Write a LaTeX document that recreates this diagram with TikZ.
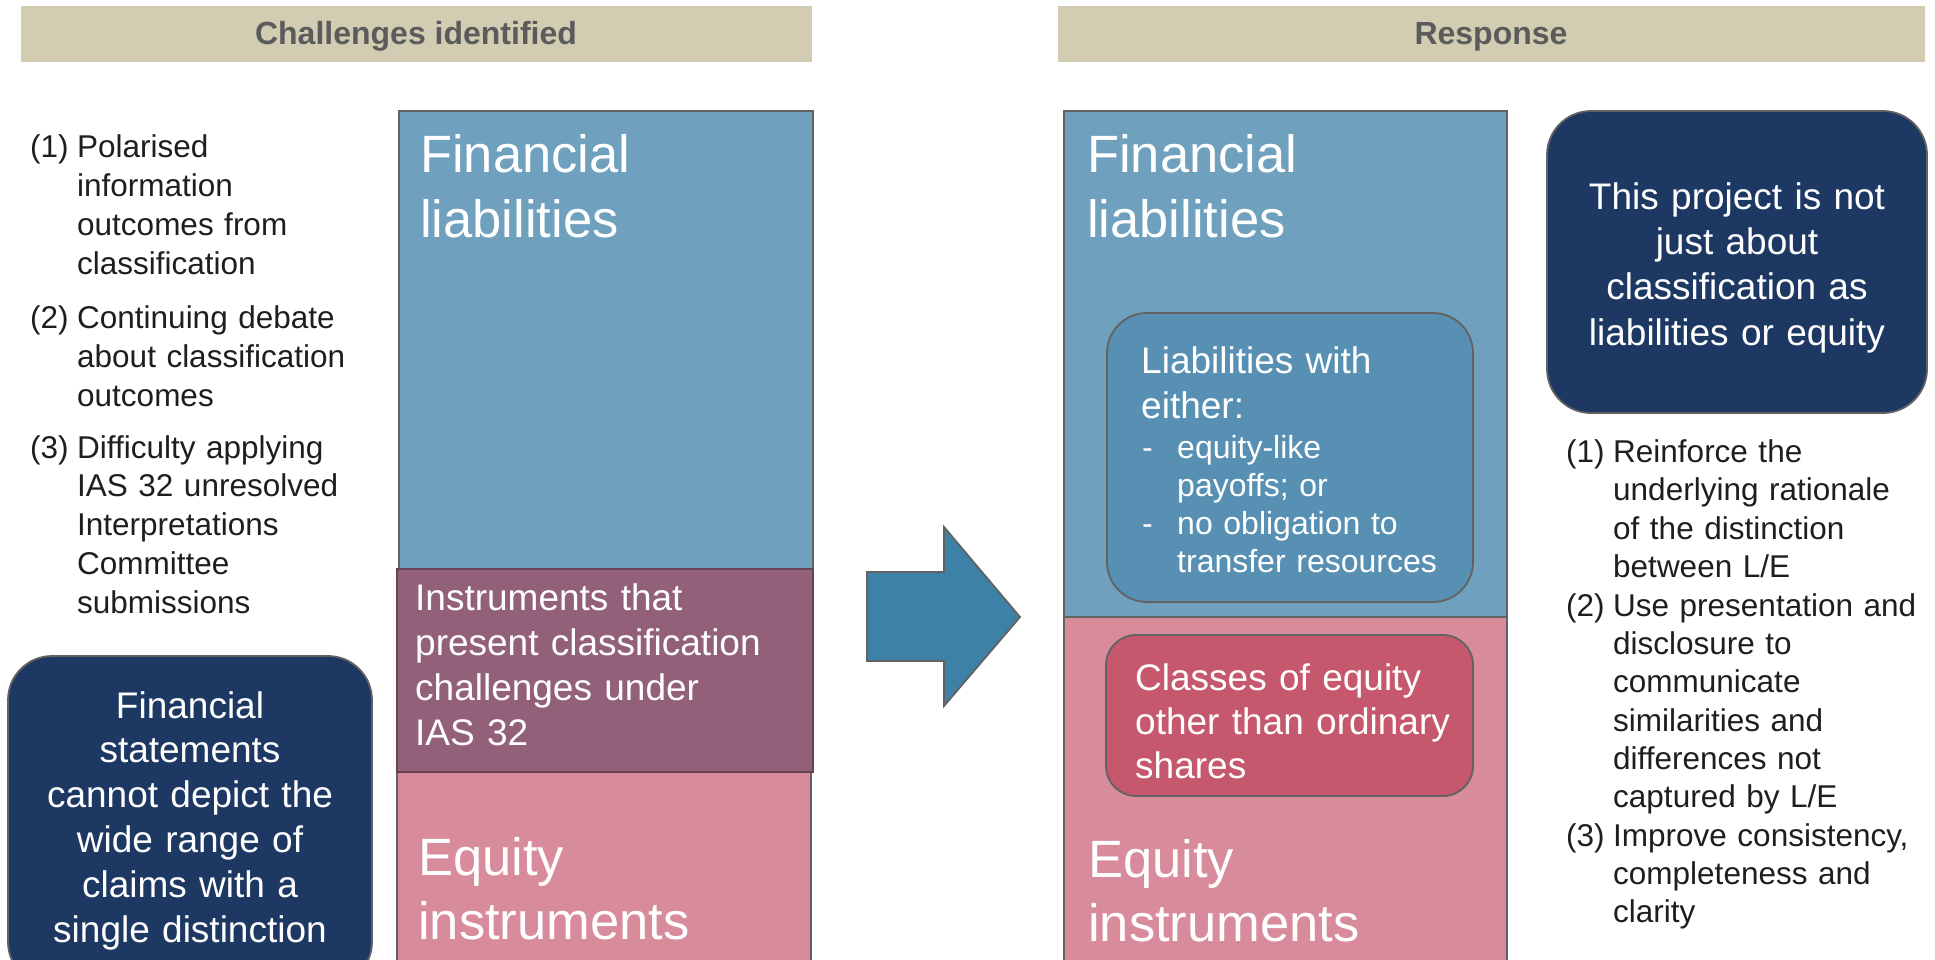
\documentclass[tikz,border=0pt]{standalone}
\usepackage{fontspec}
\setmainfont{Liberation Sans}
\definecolor{hdrfill}{HTML}{D2CCB3}
\definecolor{hdrtext}{HTML}{5B5B5B}
\definecolor{liabblue}{HTML}{6FA1BE}
\definecolor{eqpink}{HTML}{D88B9B}
\definecolor{challpurple}{HTML}{93607A}
\definecolor{innerblue}{HTML}{5790B2}
\definecolor{innerred}{HTML}{C5586C}
\definecolor{navy}{HTML}{1E3864}
\definecolor{arrowblue}{HTML}{3E81A7}
\definecolor{edgegray}{HTML}{626262}
\definecolor{listtext}{HTML}{1E1E1E}
\begin{document}
\begin{tikzpicture}[x=1pt,y=-1pt,
  panel/.style={anchor=north west, inner sep=0pt, outer sep=0pt, draw=edgegray, line width=1.8pt},
  header/.style={anchor=north west, inner sep=0pt, fill=hdrfill},
  headtext/.style={anchor=base, inner sep=0pt, text=hdrtext, font=\bfseries\fontsize{32}{38}\selectfont},
  txt/.style={anchor=base west, inner sep=0pt, align=left, text width=520pt},
  ctxt/.style={anchor=base, inner sep=0pt, align=center, text width=360pt, text=white,
               font=\fontsize{37}{44.8}\selectfont},
  bigtext/.style={txt, text=white, font=\fontsize{52.5}{64.5}\selectfont},
  midtext/.style={txt, text=white, font=\fontsize{37}{45}\selectfont},
  bullettext/.style={txt, text=white, font=\fontsize{32}{38}\selectfont},
  listtxt/.style={txt, text=listtext, font=\fontsize{31.5}{38.8}\selectfont},
  rlisttxt/.style={txt, text=listtext, font=\fontsize{31.5}{38.36}\selectfont}]

\useasboundingbox (0,0) rectangle (1935,960);
\clip (0,0) rectangle (1935,960);

% column headers
\node[header, minimum width=791pt, minimum height=56pt] (hdrL) at (21,6) {};
\node[header, minimum width=867pt, minimum height=56pt] (hdrR) at (1058,6) {};
\node[headtext] (hdrLtext) at (416,45) {Challenges identified};
\node[headtext] (hdrRtext) at (1491,45) {Response};

% left column: liabilities / equity split with the problem band
\node[panel, fill=liabblue, minimum width=414pt, minimum height=520pt] (liabL) at (399,111) {};
\node[panel, fill=eqpink, minimum width=414pt, minimum height=280pt] (eqL) at (397,690) {};
\node[panel, fill=challpurple, draw=challpurple!70!black, minimum width=416pt, minimum height=203pt] (challL) at (397,569) {};

% right column: liabilities / equity split
\node[panel, fill=liabblue, minimum width=443pt, minimum height=506pt] (liabR) at (1064,111) {};
\node[panel, fill=eqpink, minimum width=443pt, minimum height=360pt] (eqR) at (1064,617) {};
\node[panel, fill=innerblue, rounded corners=40pt, minimum width=366pt, minimum height=289pt] (liabwith) at (1107,313) {};
\node[panel, fill=innerred, rounded corners=30pt, minimum width=367pt, minimum height=161pt] (eqclasses) at (1106,635) {};

% dark message boxes
\node[panel, fill=navy, rounded corners=44pt, minimum width=364pt, minimum height=330pt] (msgL) at (8,656) {};
\node[panel, fill=navy, rounded corners=44pt, minimum width=380pt, minimum height=302pt] (msgR) at (1547,111) {};

% transition arrow
\draw[fill=arrowblue, draw=edgegray, line width=1.8pt, line join=miter]
  (867,572) -- (944,572) -- (944,527) -- (1020,617) -- (944,706) -- (944,661) -- (867,661) -- cycle;

% texts in the left column
\node[bigtext] (liabLtext) at (420,173) {Financial\\liabilities};
\node[midtext] (challLtext) at (415,610) {Instruments that\\present classification\\challenges under\\IAS 32};
\node[bigtext] (eqLtext) at (418,875) {Equity\\instruments};

% texts in the right column
\node[bigtext] (liabRtext) at (1087,173) {Financial\\liabilities};
\node[midtext] (liabwithtext) at (1141,373) {Liabilities with\\either:};
\node[bullettext] (dashA) at (1142,458) {-};
\node[bullettext] (bulletA) at (1177,458) {equity-like\\payoffs; or};
\node[bullettext] (dashB) at (1142,534) {-};
\node[bullettext] (bulletB) at (1177,534) {no obligation to\\transfer resources};
\node[midtext, font=\fontsize{37}{44}\selectfont] (eqclassestext) at (1135,690) {Classes of equity\\other than ordinary\\shares};
\node[bigtext] (eqRtext) at (1088,877) {Equity\\instruments};

% message box texts
\node[ctxt] (msgLtext) at (190,718) {Financial\\statements\\cannot depict the\\wide range of\\claims with a\\single distinction};
\node[ctxt, font=\fontsize{37}{45}\selectfont] (msgRtext) at (1737,210) {This project is not\\just about\\classification as\\liabilities or equity};

% list of challenges
\node[listtxt] (cnum1) at (30,158) {(1)};
\node[listtxt] (citem1) at (77,158) {Polarised\\information\\outcomes from\\classification};
\node[listtxt] (cnum2) at (30,328.5) {(2)};
\node[listtxt] (citem2) at (77,328.5) {Continuing debate\\about classification\\outcomes};
\node[listtxt] (cnum3) at (30,458) {(3)};
\node[listtxt] (citem3) at (77,458) {Difficulty applying\\IAS 32 unresolved\\Interpretations\\Committee\\submissions};

% list of responses
\node[rlisttxt] (rnum1) at (1566,462.5) {(1)};
\node[rlisttxt] (ritem1) at (1613,462.5) {Reinforce the\\underlying rationale\\of the distinction\\between L/E};
\node[rlisttxt] (rnum2) at (1566,616) {(2)};
\node[rlisttxt] (ritem2) at (1613,616) {Use presentation and\\disclosure to\\communicate\\similarities and\\differences not\\captured by L/E};
\node[rlisttxt] (rnum3) at (1566,846) {(3)};
\node[rlisttxt] (ritem3) at (1613,846) {Improve consistency,\\completeness and\\clarity};

\end{tikzpicture}
\end{document}
